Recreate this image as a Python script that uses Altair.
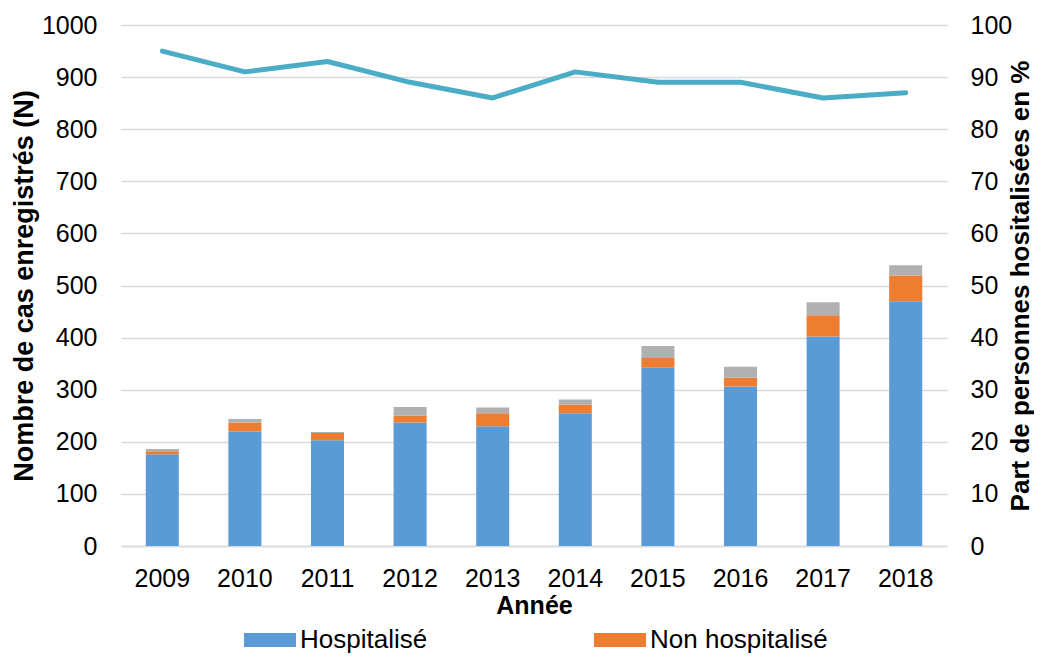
import altair as alt
import pandas as pd

annees = ["2009", "2010", "2011", "2012", "2013", "2014", "2015", "2016", "2017", "2018"]
hospitalise = [176, 220, 203, 237, 230, 255, 342, 306, 402, 470]
non_hospitalise = [6, 17, 14, 13, 25, 16, 19, 17, 41, 49]
inconnu = [4, 7, 2, 17, 11, 10, 23, 21, 25, 20]
part_hosp = [95, 91, 93, 89, 86, 91, 89, 89, 86, 87]

categories = ["Hospitalisé", "Non hospitalisé", "Inconnu"]
couleurs = ["#5b9bd5", "#ed7d31", "#b0b0b0"]

rows = []
for i, a in enumerate(annees):
    for k, (cat, vals) in enumerate(zip(categories, [hospitalise, non_hospitalise, inconnu])):
        rows.append({"Année": a, "Statut": cat, "N": vals[i], "ordre": k})
df_bars = pd.DataFrame(rows)
df_line = pd.DataFrame({"Année": annees, "Part": part_hosp})

FONT = "Liberation Sans"
W, H = 826, 521

x_enc = alt.X(
    "Année:N",
    title="Année",
    scale=alt.Scale(paddingInner=0.6, paddingOuter=0.3),
    axis=alt.Axis(
        labelAngle=0, labelFontSize=25, labelPadding=20, ticks=False,
        domain=True, domainColor="#d9d9d9", domainWidth=1.5,
        titleFontSize=25, titleFontWeight="bold", titlePadding=2,
    ),
)

bars = alt.Chart(df_bars).mark_bar().encode(
    x=x_enc,
    y=alt.Y(
        "N:Q",
        stack="zero",
        title="Nombre de cas enregistrés (N)",
        scale=alt.Scale(domain=[0, 1000], nice=False),
        axis=alt.Axis(
            values=list(range(0, 1001, 100)), orient="left", format="d",
            labelFontSize=25, labelPadding=24, ticks=False, domain=False,
            grid=True, gridColor="#d9d9d9", gridWidth=1.5,
            titleFontSize=27, titleFontWeight="bold",
            titleAngle=270, titleX=-89, titleY=H / 2, titleBaseline="alphabetic",
            titleAlign="center",
        ),
    ),
    color=alt.Color(
        "Statut:N",
        scale=alt.Scale(domain=categories, range=couleurs),
        legend=alt.Legend(
            values=["Hospitalisé", "Non hospitalisé"],
            title=None, orient="none", legendX=123, legendY=589,
            direction="horizontal", columns=2, columnPadding=166,
            symbolType="M-1,-0.27H1V0.27H-1Z", symbolSize=2704,
            symbolStrokeWidth=0, symbolOpacity=1,
            labelFontSize=26, labelOffset=4, labelLimit=400, padding=0,
        ),
    ),
    order=alt.Order("ordre:Q", sort="ascending"),
)

line = alt.Chart(df_line).mark_line(color="#4bacc6", strokeWidth=5, strokeCap="round", strokeJoin="round").encode(
    x=x_enc,
    y=alt.Y(
        "Part:Q",
        title="Part de personnes hositalisées en %",
        scale=alt.Scale(domain=[0, 100], nice=False),
        axis=alt.Axis(
            values=list(range(0, 101, 10)), orient="right",
            labelFontSize=25, labelPadding=23, ticks=False, domain=False, grid=False,
            titleFontSize=26, titleFontWeight="bold",
            titleAngle=270, titleX=81, titleY=H / 2, titleBaseline="alphabetic",
            titleAlign="center",
        ),
    ),
)

chart = (
    alt.layer(bars, line)
    .resolve_scale(y="independent")
    .properties(
        width=W, height=H,
        autosize=alt.AutoSizeParams(type="none"),
        padding={"left": 113, "top": 17, "right": 87, "bottom": 108},
    )
    .configure(font=FONT)
    .configure_view(stroke=None)
    .configure_axis(labelColor="#000000", titleColor="#000000", labelFont=FONT, titleFont=FONT)
    .configure_legend(labelColor="#000000", labelFont=FONT)
)

chart.save("out.html", embed_options={"renderer": "svg", "actions": False})
